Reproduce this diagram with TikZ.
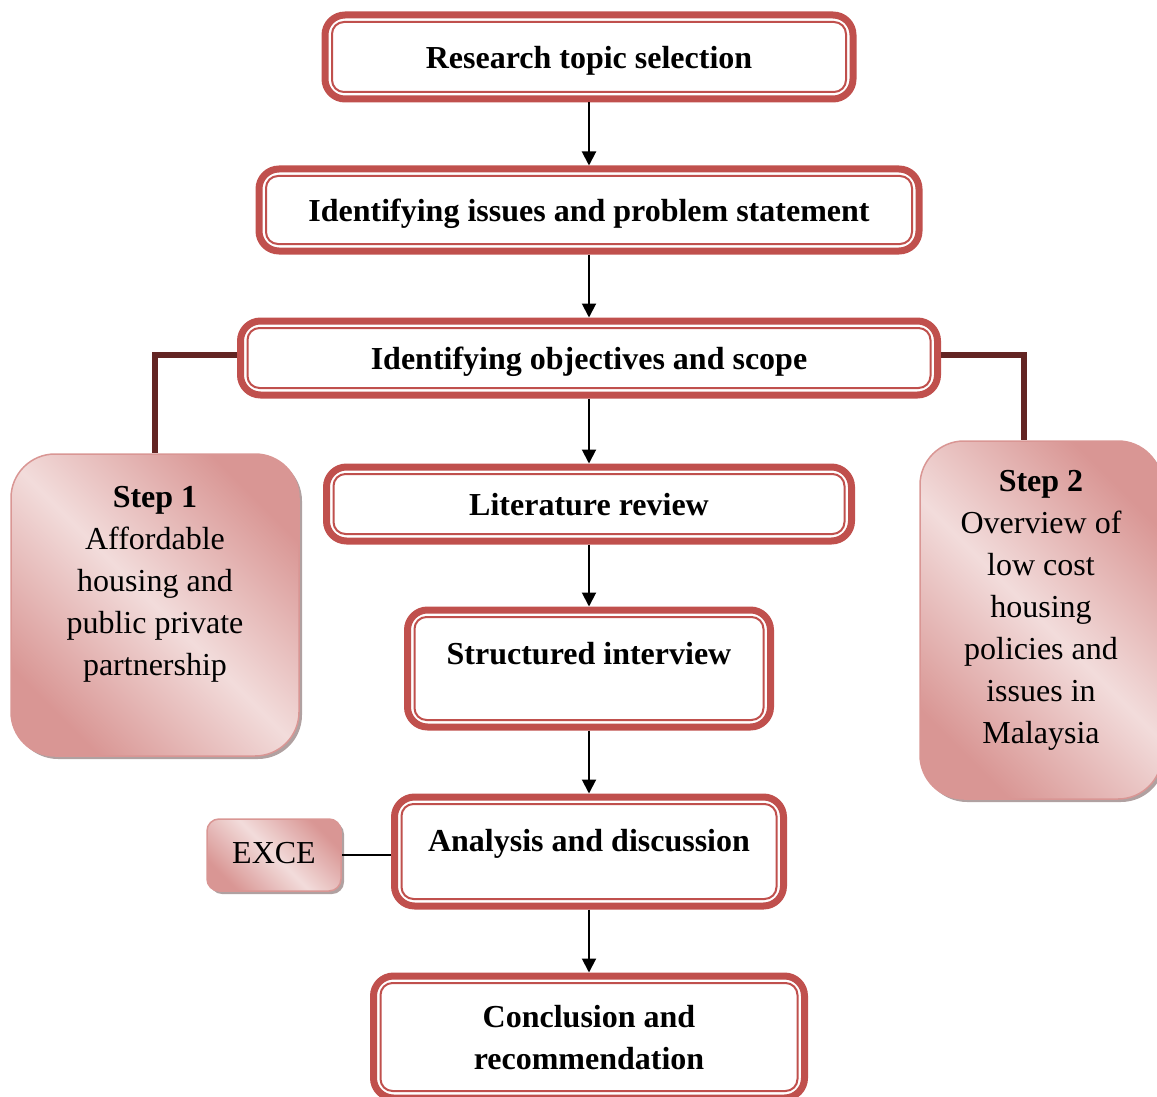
\documentclass[tikz,border=0pt]{standalone}
\usepackage{fontspec}
\setmainfont{Liberation Serif}
\usepackage{tikz}
\usetikzlibrary{arrows.meta,shadows}

\definecolor{boxred}{HTML}{C0504D}
\definecolor{linkred}{HTML}{632523}
\definecolor{steplight}{HTML}{F2DCDB}
\definecolor{stepdark}{HTML}{D99694}

\begin{document}
\begin{tikzpicture}[x=0.5pt,y=-0.5pt,
	font=\fontsize{16pt}{21pt}\selectfont,
	mainbox/.style={draw=boxred, line width=3.5pt, rounded corners=10pt, fill=white,
		align=center, inner sep=0pt, text depth=0pt, font=\fontsize{16pt}{21pt}\selectfont\bfseries,
		path picture={\draw[boxred, line width=1pt, rounded corners=6pt]
			([shift={(3.5pt,3.5pt)}]path picture bounding box.south west) rectangle
			([shift={(-3.5pt,-3.5pt)}]path picture bounding box.north east);}},
	stepbox/.style={draw=stepdark, line width=0.75pt, rounded corners=22pt,
		top color=stepdark, bottom color=stepdark, middle color=steplight, shading angle=-45,
		align=center, inner sep=0pt,
		drop shadow={shadow xshift=1.5pt, shadow yshift=-1.5pt, fill=stepdark!45!black, opacity=0.5}},
	arrow/.style={-{Triangle[width=7pt,length=7pt]}, line width=1pt},
	link/.style={draw=linkred, line width=3pt}]
\useasboundingbox (0,0) rectangle (1157,1097);

\node[mainbox, minimum width=264pt, minimum height=42pt] (topic) at (589,57) {Research topic selection};
\node[mainbox, minimum width=330pt, minimum height=41pt] (issues) at (589,210) {Identifying issues and problem statement};
\node[mainbox, minimum width=348.5pt, minimum height=37pt, text depth=-4pt] (objectives) at (589,358) {Identifying objectives and scope};
\node[mainbox, minimum width=262.5pt, minimum height=37pt, text depth=-1pt] (literature) at (589,504) {Literature review};
\node[mainbox, minimum width=181.5pt, minimum height=58.5pt] (interview) at (589,668.5) {Structured interview\\[-5.5pt]~};
\node[mainbox, minimum width=194.5pt, minimum height=54.5pt] (analysis) at (589,851.5) {Analysis and discussion\\[-9.5pt]~};
\node[mainbox, minimum width=215.5pt, minimum height=61pt, text depth=-2pt] (conclusion) at (589,1037) {Conclusion and\\recommendation};

\node[stepbox, minimum width=144pt, minimum height=151pt] (stepone) at (155,605)
	{\textbf{Step 1}\\Affordable\\housing and\\public private\\partnership\\[3pt]~};
\node[stepbox, minimum width=121pt, minimum height=179pt] (steptwo) at (1041,620)
	{\textbf{Step 2}\\Overview of\\low cost\\housing\\policies and\\issues in\\Malaysia\\[-8pt]~};
\node[stepbox, rounded corners=6pt, minimum width=67pt, minimum height=36pt, text depth=2pt] (exce) at (274,855) {EXCE};

\draw[arrow] (topic.south) -- (issues.north);
\draw[arrow] (issues.south) -- (objectives.north);
\draw[arrow] (objectives.south) -- (literature.north);
\draw[arrow] (literature.south) -- (interview.north);
\draw[arrow] (interview.south) -- (analysis.north);
\draw[arrow] (analysis.south) -- (conclusion.north);

\draw[link] ([yshift=1.5pt]objectives.west) -| (stepone.north);
\draw[link] ([yshift=1.5pt]objectives.east) -| ([xshift=-8.5pt]steptwo.north);
\draw[line width=0.75pt] (exce.east) -- (exce.east -| analysis.west);
\end{tikzpicture}
\end{document}
